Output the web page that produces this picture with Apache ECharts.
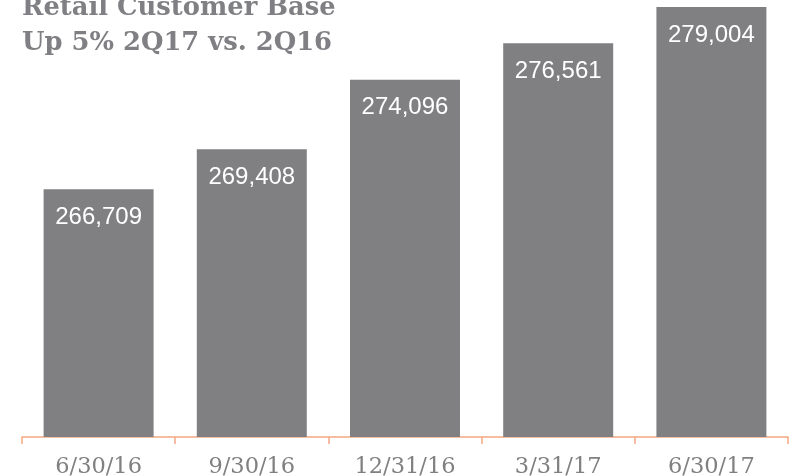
<!DOCTYPE html>
<html>
<head>
<meta charset="utf-8">
<script src="https://cdn.jsdelivr.net/npm/echarts@6/dist/echarts.min.js"></script>
<style>html,body{margin:0;padding:0;background:#fff}#c{width:790px;height:476px}</style>
</head>
<body>
<div id="c"></div>
<script>
const categories = ['6/30/16', '9/30/16', '12/31/16', '3/31/17', '6/30/17'];
const customers = [266709, 269408, 274096, 276561, 279004];
const titleLines = ['Retail Customer Base', 'Up 5% 2Q17 vs. 2Q16'];
const axisMin = 250000;

const chart = echarts.init(document.getElementById('c'), null, {renderer: 'canvas'});
chart.setOption({
  animation: false,
  title: {
    text: titleLines.join('\n'),
    left: 22, top: -9, padding: 0,
    textStyle: {fontFamily: 'DejaVu Serif', fontWeight: 'bold', fontSize: 25.8, lineHeight: 35, color: '#808084'}
  },
  grid: {left: 22, right: 2, top: 7, bottom: 39, containLabel: false, outerBoundsMode: 'none'},
  xAxis: {
    type: 'category', data: categories,
    axisLine: {lineStyle: {color: '#f5a882', width: 1.5}},
    axisTick: {show: true, length: 7, lineStyle: {color: '#f5a882', width: 1.5}},
    axisLabel: {margin: 19, fontFamily: 'DejaVu Serif', fontSize: 22.5, color: '#808080'}
  },
  yAxis: {type: 'value', show: false, min: axisMin, max: v => v.max, splitLine: {show: false}},
  series: [{
    type: 'bar', data: customers, barWidth: 110,
    itemStyle: {color: '#808083'},
    label: {
      show: true, position: 'insideTop', distance: 16,
      fontFamily: 'Liberation Sans', fontSize: 24, color: '#ffffff',
      formatter: p => p.value.toLocaleString('en-US')
    }
  }]
});
</script>
</body>
</html>
